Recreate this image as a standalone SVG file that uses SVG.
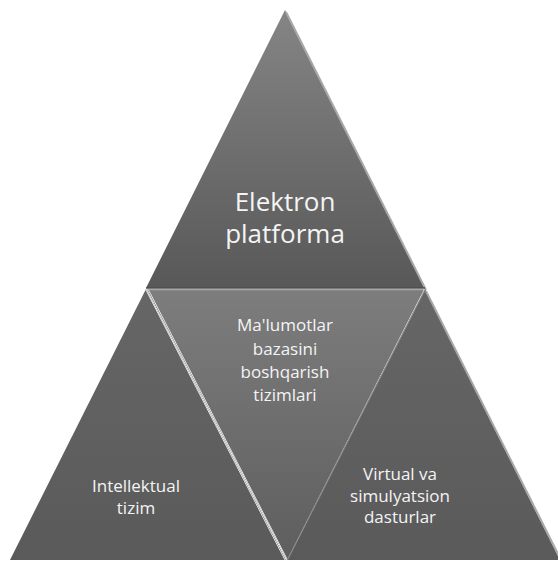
<svg xmlns="http://www.w3.org/2000/svg" width="558" height="561" viewBox="0 0 558 561">
<defs>
<linearGradient id="gTop" x1="0" y1="10" x2="0" y2="288" gradientUnits="userSpaceOnUse">
<stop offset="0" stop-color="#858585"/><stop offset="1" stop-color="#585858"/>
</linearGradient>
<linearGradient id="gMid" x1="0" y1="289" x2="0" y2="560" gradientUnits="userSpaceOnUse">
<stop offset="0" stop-color="#7d7d7d"/><stop offset="1" stop-color="#5e5e5e"/>
</linearGradient>
<linearGradient id="gBot" x1="0" y1="289" x2="0" y2="560" gradientUnits="userSpaceOnUse">
<stop offset="0" stop-color="#666666"/><stop offset="1" stop-color="#5a5a5a"/>
</linearGradient>
<style>
text{font-family:"Open Sans","Noto Sans",sans-serif;fill:#f4f4f4;text-anchor:middle}
.big{font-size:26px}
.sm{font-size:17px}
.hl{stroke:#e6e6e6;stroke-width:1;fill:none}
.bev{stroke:#a8a8a8;stroke-width:2;fill:none}
</style>
</defs>
<rect width="558" height="561" fill="#ffffff"/>
<g id="node-top">
<polygon points="285,10 146,288 425,288" fill="url(#gTop)"/>
<line class="bev" x1="286" y1="12" x2="426" y2="290"/>
<line x1="146" y1="288" x2="425" y2="288" stroke="#4e4e4e" stroke-width="1.5"/>
<text class="big" x="285" y="211">Elektron</text>
<text class="big" x="285" y="243">platforma</text>
</g>
<g id="node-middle">
<polygon points="147,289.5 424,289.5 287,560" fill="url(#gMid)"/>
<line x1="148" y1="290" x2="423" y2="290" stroke="#909090" stroke-width="1"/>
<text class="sm" x="285" y="331">Ma'lumotlar</text>
<text class="sm" x="285" y="355">bazasini</text>
<text class="sm" x="285" y="378">boshqarish</text>
<text class="sm" x="285" y="401">tizimlari</text>
</g>
<g id="node-left">
<polygon points="146,289 10,560 286,560" fill="url(#gBot)"/>
<line class="hl" x1="146" y1="290" x2="285" y2="560"/>
<line class="hl" x1="148.5" y1="290" x2="287.5" y2="560"/>
<text class="sm" x="136" y="492">Intellektual</text>
<text class="sm" x="136" y="514">tizim</text>
</g>
<g id="node-right">
<polygon points="425,289 287,560 560,560" fill="url(#gBot)"/>
<line x1="425" y1="290" x2="287.5" y2="560" stroke="#8c8c8c" stroke-width="1"/>
<line class="bev" x1="426" y1="291" x2="561" y2="560"/>
<text class="sm" x="400" y="480">Virtual va</text>
<text class="sm" x="400" y="502">simulyatsion</text>
<text class="sm" x="400" y="523">dasturlar</text>
</g>
</svg>
